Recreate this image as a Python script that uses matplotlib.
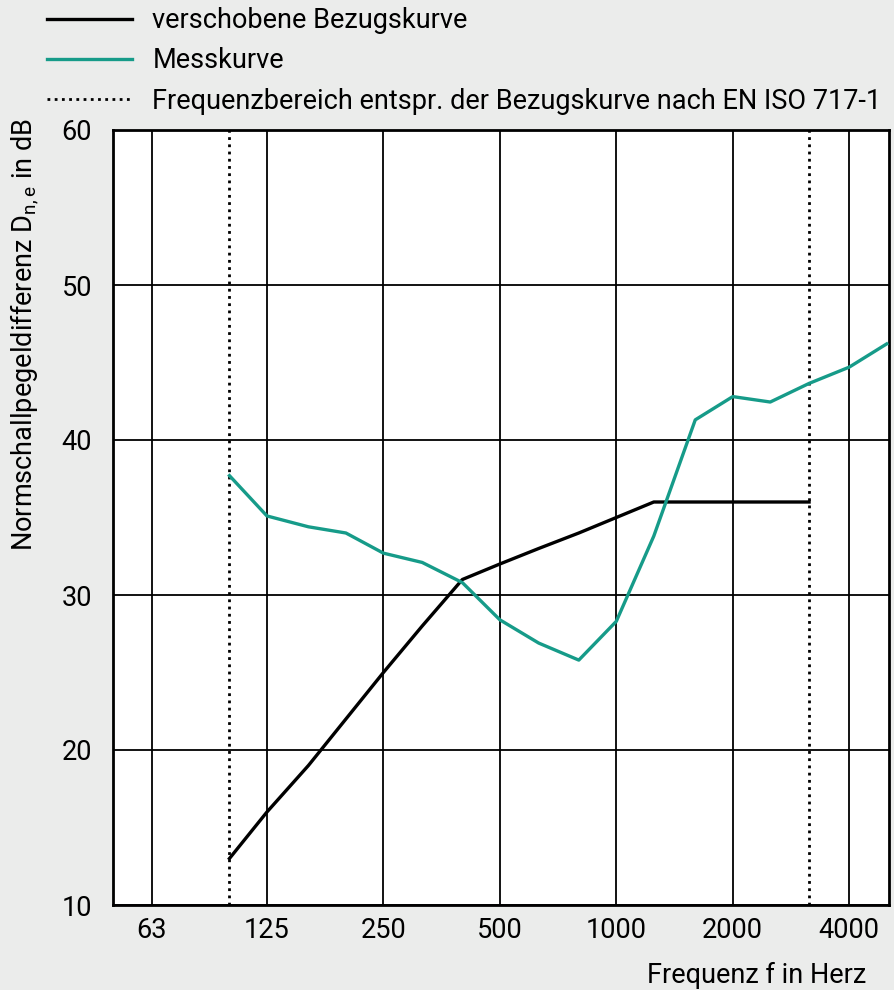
import numpy as np
import matplotlib
matplotlib.use('Agg')
import matplotlib.pyplot as plt

plt.rcParams['font.family'] = ['Roboto', 'DejaVu Sans']

# third-octave band centre frequencies
freq_mess = [100, 125, 160, 200, 250, 315, 400, 500, 630, 800, 1000, 1250, 1600, 2000, 2500, 3150, 4000, 5000]
mess = [37.7, 35.1, 34.4, 34.0, 32.7, 32.1, 30.8, 28.4, 26.9, 25.8, 28.3, 33.8, 41.3, 42.8, 42.45, 43.65, 44.7, 46.2]

freq_ref = [100, 125, 160, 200, 250, 315, 400, 500, 630, 800, 1000, 1250, 1600, 2000, 2500, 3150]
ref = [13, 16, 19, 22, 25, 28, 31, 32, 33, 34, 35, 36, 36, 36, 36, 36]

octave_ticks = [63, 125, 250, 500, 1000, 2000, 4000]
range_limits = [100, 3150]

bg = '#ebeceb'
teal = '#169b89'
fs = 19.5

fig = plt.figure(figsize=(8.95, 9.9), dpi=100, facecolor=bg)
ax = fig.add_axes([113/895, 1-905/990, (889-113)/895, (905-130)/990])
ax.set_facecolor('white')

ax.set_xscale('log', base=2)
ax.set_xlim(50, 5000 * 2**(1/116 * 2.3))
ax.set_ylim(10, 60)

ax.set_xticks(octave_ticks)
ax.set_xticklabels([str(t) for t in octave_ticks])
ax.xaxis.set_minor_locator(matplotlib.ticker.NullLocator())
ax.set_yticks([10, 20, 30, 40, 50, 60])
ax.tick_params(length=0, labelsize=fs, pad=9)
ax.tick_params(axis='y', pad=15)

ax.grid(True, color='black', linewidth=1.3)
ax.set_axisbelow(True)
for s in ax.spines.values():
    s.set_linewidth(2)
    s.set_color('black')

l_ref, = ax.plot(freq_ref, ref, color='black', linewidth=2.4, label='verschobene Bezugskurve', zorder=3)
l_mess, = ax.plot(freq_mess, mess, color=teal, linewidth=2.4, label='Messkurve', zorder=4)
for f in range_limits:
    l_dot = ax.axvline(f, color='black', linestyle=(0, (1, 1.6)), linewidth=2, zorder=3,
                       label='Frequenzbereich entspr. der Bezugskurve nach EN ISO 717-1')

fig.legend(handles=[l_ref, l_mess, l_dot], loc='upper left', bbox_to_anchor=(47/895, 1-7/990),
           frameon=False, fontsize=fs, handlelength=3.15, handletextpad=0.74, labelspacing=0.49,
           borderpad=0, borderaxespad=0)

fig.text(25/895, 1-118/990, r'Normschallpegeldifferenz D$_{\mathregular{n,e}}$ in dB', rotation=90,
         ha='center', va='top', fontsize=fs)
fig.text(866/895, 1-975/990, 'Frequenz f in Herz', ha='right', va='center', fontsize=fs)

fig.savefig('out.png', dpi=100, facecolor=bg)
